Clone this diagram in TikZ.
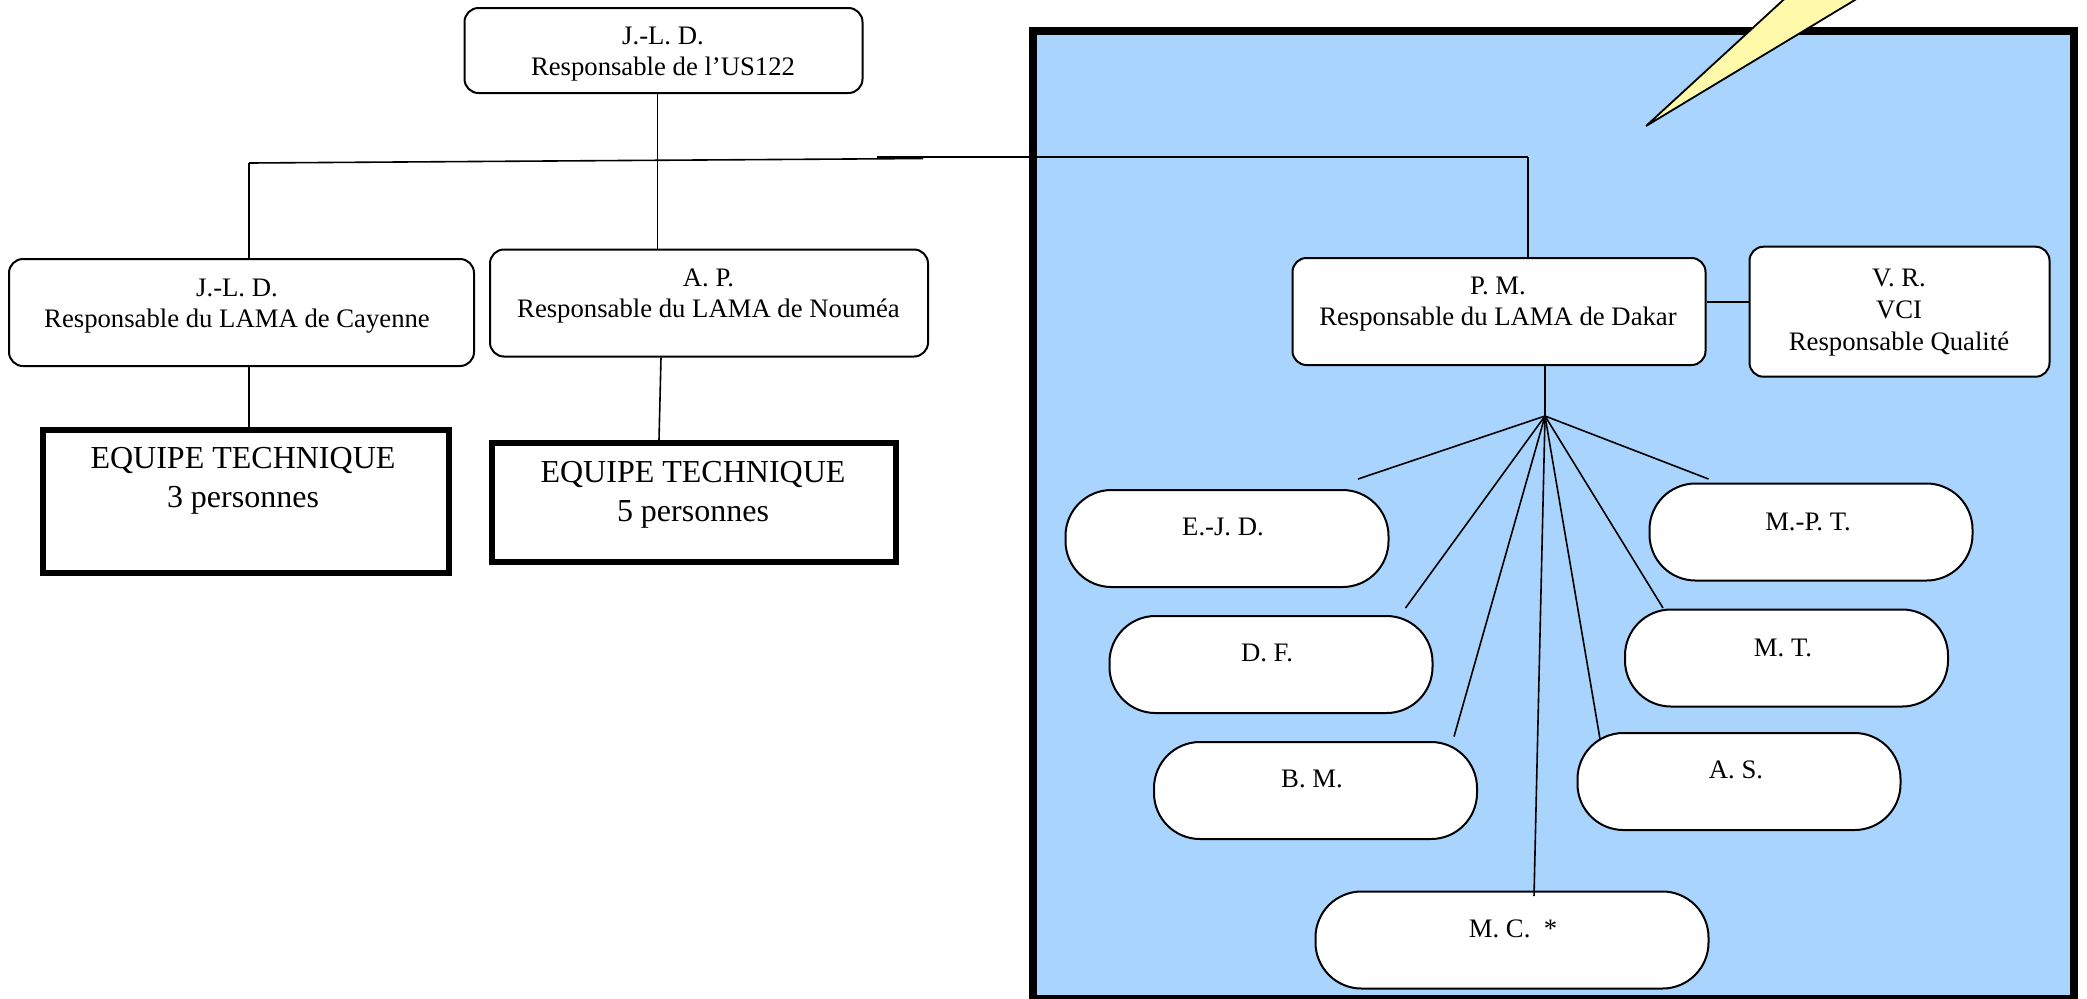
\documentclass[tikz,border=0pt]{standalone}
\usepackage{fontspec}
\setmainfont{Liberation Serif}
\definecolor{labblue}{RGB}{168,212,253}
\definecolor{callout}{RGB}{255,250,170}
\begin{document}
\begin{tikzpicture}[x=0.5pt,y=-0.5pt,
  conn/.style={line width=0.8pt},
  rbox/.style={draw, line width=1pt, rounded corners=7pt, fill=white, inner sep=0pt},
  teambox/.style={draw, line width=3pt, fill=white, inner sep=0pt},
  pill/.style={draw, line width=1pt, rounded corners=23pt, fill=white,
    minimum width=161.5pt, minimum height=48.5pt, inner sep=0pt},
  small/.style={font=\fontsize{13.35}{15.5}\selectfont, align=center, inner sep=0pt},
  big/.style={font=\fontsize{16}{19.25}\selectfont, align=center, inner sep=0pt}]
\useasboundingbox (0,0) rectangle (2087,998);

% Dakar laboratory frame
\begin{scope}
  \clip (0,0) rectangle (2087,998);
  \draw[line width=4pt, fill=labblue] (1033,31) rectangle (2074,999);
  % callout tail
  \draw[fill=callout, line width=0.9pt, line join=miter] (1646,126) -- (1805,-20) -- (1888,-20) -- cycle;
\end{scope}

% head of the unit
\node[rbox, minimum width=199pt, minimum height=42.5pt] (top) at (663.5,50.5) {};
\node[small] (topt) at (663,54) {J.-L. D.\\Responsable de l’US122};

% Cayenne
\node[rbox, minimum width=232.5pt, minimum height=53.5pt] (cay) at (241.5,312.5) {};
\node[small] (cayt) at (237,306.5) {J.-L. D.\\Responsable du LAMA de Cayenne};
\node[teambox, minimum width=203pt, minimum height=71.5pt] (eq1) at (246,501.5) {};
\node[big] (eq1t) at (243,481) {EQUIPE TECHNIQUE\\3 personnes};

% Noumea
\node[rbox, minimum width=219pt, minimum height=53.5pt] (nou) at (709,303) {};
\node[small] (nout) at (708.5,296) {A. P.\\Responsable du LAMA de Nouméa};
\node[teambox, minimum width=202pt, minimum height=59.5pt] (eq2) at (694,502.5) {};
\node[big] (eq2t) at (693,495) {EQUIPE TECHNIQUE\\5 personnes};

% Dakar
\node[rbox, minimum width=206.5pt, minimum height=53.5pt] (dakar) at (1499,311.5) {};
\node[small] (dakart) at (1498,304) {P. M.\\Responsable du LAMA de Dakar};
\node[rbox, minimum width=150pt, minimum height=65pt] (vr) at (1899.5,311.7) {};
\node[small, font=\fontsize{13.35}{16}\selectfont] (vrt) at (1899,312.5) {V. R.\\VCI\\Responsable Qualité};

% Dakar staff
\node[pill] (ejd) at (1227,538.5) {};
\node[small] (ejdt) at (1223,527) {E.-J. D.};
\node[pill] (df) at (1271,664.5) {};
\node[small] (dft) at (1267,653) {D. F.};
\node[pill] (bm) at (1315.5,790.5) {};
\node[small] (bmt) at (1312,779) {B. M.};
\node[pill, minimum width=196.5pt] (mc) at (1512,940) {};
\node[small] (mct) at (1513,929) {M. C.~~*};
\node[pill] (mpt) at (1811,532) {};
\node[small] (mptt) at (1808,522) {M.-P. T.};
\node[pill] (mt) at (1786.5,658) {};
\node[small] (mtt) at (1783,648) {M. T.};
\node[pill] (as) at (1739,781.5) {};
\node[small] (ast) at (1736,770) {A. S.};

% connectors
\coordinate (cL) at (249,163);
\coordinate (bA) at (923,158.5);
\coordinate (bB) at (877,157);
\coordinate (bR) at (1528,157);
\coordinate (tx) at (657.5,0);
\coordinate (nx1) at (661,0);
\coordinate (nx2) at (659,0);
\coordinate (vy) at (0,302);
\coordinate (hub) at (1545,416);

\draw[conn] (cL) -- (bA);
\draw[conn] (bB) -- (bR);
\draw[conn] (cL) -- (cay.north -| cL);
\draw[conn] (bR) -- (dakar.north -| bR);
\draw[conn] (top.south -| tx) -- (nou.north -| tx);
\draw[conn] (cay.south -| cL) -- (eq1.north -| cL);
\draw[conn] (nou.south -| nx1) -- (eq2.north -| nx2);
\draw[conn, line width=1.2pt] (dakar.east |- vy) -- (vr.west |- vy);
\draw[conn] (dakar.south -| hub) -- (hub);

\coordinate (ejdin) at (1358,479);
\coordinate (dfin) at (1405.5,608);
\coordinate (bmin) at (1454,736.6);
\coordinate (mcin) at (1534,896);
\coordinate (asin) at (1600,739);
\coordinate (mtin) at (1663,608);
\coordinate (mptin) at (1708.5,479);
\foreach \e in {ejdin,dfin,bmin,mcin,asin,mtin,mptin}
  \draw[conn] (hub) -- (\e);
\end{tikzpicture}
\end{document}
